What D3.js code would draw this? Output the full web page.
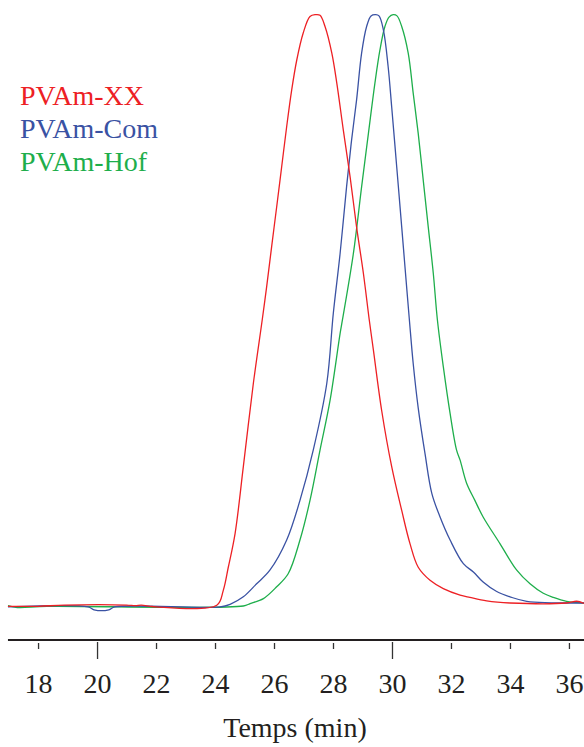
<!DOCTYPE html>
<html><head><meta charset="utf-8">
<script src="https://cdn.jsdelivr.net/npm/d3@7"></script>
<style>html,body{margin:0;padding:0;background:#fff;}svg{display:block;}</style>
</head><body>
<script>
// Data (time in min, normalized signal in %)
const seriesNames = ["PVAm-XX", "PVAm-Com", "PVAm-Hof"];
const xxTime = [16.98,18.0,18.9,21.0,21.3,21.5,21.8,22.0,24.06,24.28,24.45,24.68,24.96,25.30,25.60,25.75,25.92,26.09,26.26,26.43,26.60,26.77,26.99,27.22,27.40,27.56,27.73,27.96,28.13,28.35,28.58,28.80,29.03,29.23,29.37,29.65,29.99,30.33,30.61,30.89,31.29,31.74,32.31,32.64,33.21,34.0,35.92,36.26,36.51];
const xxValue = [0,0,0.2,0.2,0.1,0.2,0,-0.1,0.17,2.7,6.6,12.3,23.6,37.7,48.4,54.0,60.8,67.5,74.3,81.1,87.3,92.3,96.9,99.7,100,99.9,98.0,93.5,88.4,80.5,72.6,64.1,56.3,48.4,43.3,33.1,23.6,16.2,10.6,6.6,4.4,3.0,1.9,1.5,0.9,0.56,0.56,0.85,0.5];
const comTime = [16.98,19.7,19.9,20.4,20.6,24.17,24.51,24.96,25.41,25.86,26.43,26.88,27.33,27.79,28.01,28.24,28.46,28.63,28.80,28.97,29.14,29.29,29.45,29.56,29.71,29.87,29.99,30.16,30.33,30.44,30.59,30.72,30.89,31.12,31.35,31.63,31.97,32.42,32.76,33.09,33.55,34.0,34.57,36.51];
const comValue = [-0.1,-0.1,-0.6,-0.6,-0.1,-0.1,0.34,1.6,3.8,6.1,11.2,17.9,26.4,37.7,49.5,59.6,70.9,78.8,85.6,93.5,98.0,99.8,100,99.8,97.4,91.2,84.4,74.3,64.1,57.4,48.4,41.0,33.5,25.8,19.1,15.1,11.2,7.2,5.8,4.1,2.5,1.6,0.85,0.56];
const hofTime = [16.98,17.3,18.3,24.96,25.19,25.64,26.09,26.48,26.88,27.22,27.56,27.90,28.24,28.32,28.69,28.97,29.20,29.42,29.59,29.76,29.90,30.04,30.17,30.33,30.55,30.72,30.89,31.06,31.23,31.40,31.54,31.74,31.97,32.19,32.31,32.53,32.81,33.09,33.66,34.23,34.68,35.13,35.47,35.92,36.51];
const hofValue = [0.1,-0.2,0,0.05,0.46,1.3,3.3,5.5,11.2,17.9,26.4,34.8,46.1,48.4,59.6,70.9,79.9,88.4,94.0,98.0,99.6,100,99.8,98.0,93.5,86.7,79.9,72.0,64.1,56.3,48.4,40.5,32.6,26.4,24.7,20.8,17.9,15.1,10.6,6.1,3.8,2.2,1.5,0.85,0.56];
const tickValues = [18,20,22,24,26,28,30,32,34,36];
const majorTicks = [20,30];
const axisTitle = "Temps (min)";
const colors = ["#ed2024", "#3a52a3", "#1eae4b"];

const W = 584, H = 747;
const svg = d3.select("body").append("svg").attr("width", W).attr("height", H);
const x = d3.scaleLinear().domain([16.71, 36.51]).range([0, 584]);
const y = d3.scaleLinear().domain([0, 100]).range([606.3, 14.7]);

const series = [
  {name: seriesNames[0], t: xxTime, v: xxValue, c: colors[0]},
  {name: seriesNames[1], t: comTime, v: comValue, c: colors[1]},
  {name: seriesNames[2], t: hofTime, v: hofValue, c: colors[2]}
];
const line = d3.line().x(d => x(d[0])).y(d => y(d[1])).curve(d3.curveCatmullRom.alpha(0.5));
[series[2], series[1], series[0]].forEach(s => {
  svg.append("path")
    .datum(s.t.map((t, i) => [t, s.v[i]]))
    .attr("fill", "none").attr("stroke", s.c).attr("stroke-width", 1.3)
    .attr("d", line);
});

// Axis
const axisY = 640;
const ax = svg.append("g").attr("transform", `translate(0,${axisY})`)
  .call(d3.axisBottom(x).tickValues(tickValues).tickSize(0).tickSizeOuter(0).tickPadding(0).tickFormat(d3.format("d")));
ax.select(".domain").remove();
ax.selectAll(".tick line")
  .attr("y1", d => majorTicks.includes(d) ? 2 : 3)
  .attr("y2", d => majorTicks.includes(d) ? 19 : 9)
  .attr("stroke", "#333").attr("stroke-width", 1.3);
ax.selectAll(".tick text")
  .attr("y", 53).attr("dy", null)
  .attr("font-family", "'Liberation Serif', 'Times New Roman', serif")
  .attr("font-size", 28).attr("fill", "#231f20");
svg.append("line").attr("x1", x(16.98)).attr("x2", 584).attr("y1", axisY).attr("y2", axisY)
  .attr("stroke", "#231f20").attr("stroke-width", 2);

svg.append("text").attr("x", 295).attr("y", 737).attr("text-anchor", "middle")
  .attr("font-family", "'Liberation Serif', 'Times New Roman', serif")
  .attr("font-size", 28).attr("fill", "#231f20").text(axisTitle);

// Legend
series.forEach((s, i) => {
  svg.append("text").attr("x", 20).attr("y", 105 + i * 33)
    .attr("font-family", "'Liberation Serif', 'Times New Roman', serif")
    .attr("font-size", 28).attr("fill", s.c).text(s.name);
});
</script>
</body></html>
